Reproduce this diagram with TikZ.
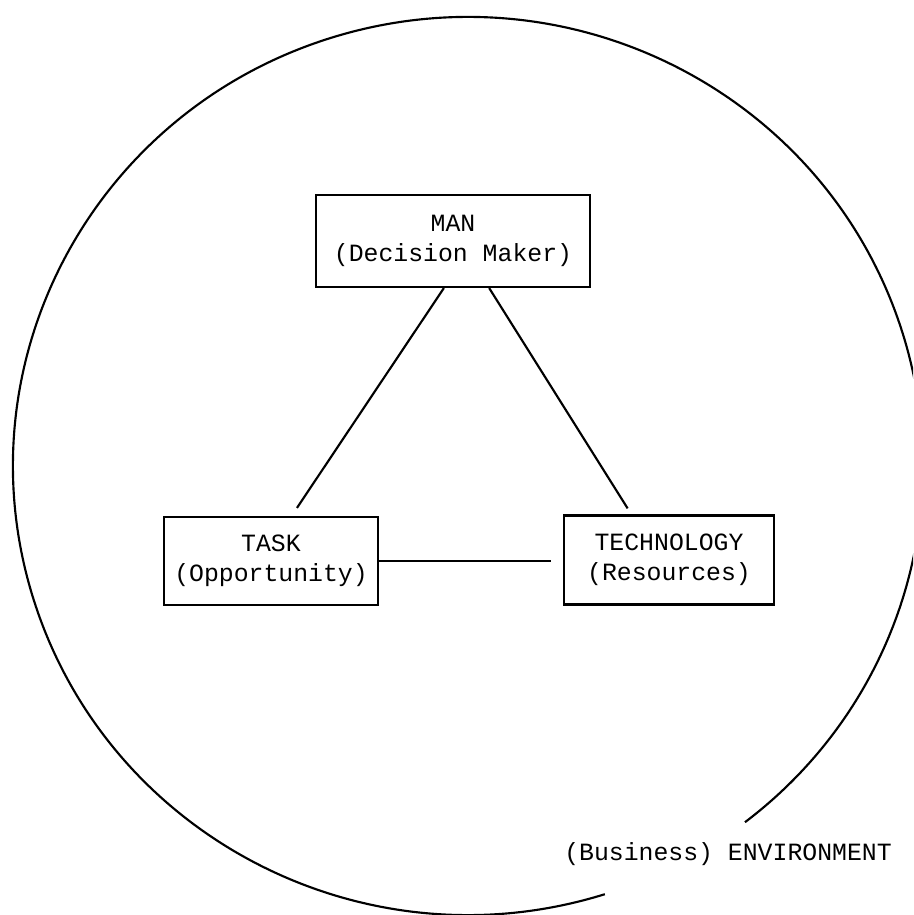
\documentclass[tikz,border=0pt]{standalone}
\usepackage{fontspec}
\setmonofont{Liberation Mono}
\usetikzlibrary{calc}

\begin{document}
\begin{tikzpicture}[x=0.375pt, y=-0.375pt,
	txt/.style={font=\ttfamily\fontsize{9.3}{11.25}\selectfont},
	box/.style={txt, draw, thick, align=center, inner sep=0pt}]

	\useasboundingbox (0,0) rectangle (913,915);

	%environment
	\begin{scope}
		\clip (0,0) rectangle (913,915);
		\draw[thick] (468,466) ++(72.5:455 and 449) arc[start angle=72.5, end angle=412.5, x radius=455, y radius=449];
	\end{scope}
	\node[txt, anchor=base] (env) at (728,860) {(Business) ENVIRONMENT};

	%boxes
	\node[box, minimum width=102.75pt, minimum height=34.5pt] (man) at (453,241) {MAN\\(Decision Maker)};
	\node[box, minimum width=80.25pt, minimum height=33pt] (task) at (271,561) {TASK\\(Opportunity)};
	\node[box, minimum width=78.75pt, minimum height=33.4pt] (tech) at (669,560) {TECHNOLOGY\\(Resources)};

	%links
	\coordinate (m1) at ($(man.south west)!0.467!(man.south east)$);
	\coordinate (m2) at ($(man.south west)!0.631!(man.south east)$);
	\coordinate (t1) at ($(task.north west)!0.62!(task.north east) + (0,-8)$);
	\coordinate (t2) at ($(tech.north west)!0.305!(tech.north east) + (0,-6)$);

	\draw[thick] (m1) -- (t1);
	\draw[thick] (m2) -- (t2);
	\draw[thick, shorten >=4.5pt] (task.east) -- (task.east -| tech.west);

\end{tikzpicture}
\end{document}
